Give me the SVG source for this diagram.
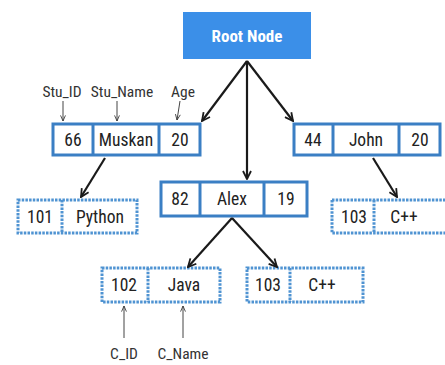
<svg xmlns="http://www.w3.org/2000/svg" width="445" height="365" viewBox="0 0 445 365">
  <defs>
    <marker id="ah" viewBox="0 0 10 10" refX="9" refY="5" markerWidth="10" markerHeight="10" orient="auto" markerUnits="userSpaceOnUse">
      <path d="M1,1 L9,5 L1,9" fill="none" stroke="#1a1a1a" stroke-width="1.8"/>
    </marker>
    <marker id="sa" viewBox="0 0 10 10" refX="9" refY="5" markerWidth="7" markerHeight="7" orient="auto" markerUnits="userSpaceOnUse">
      <path d="M1,1.5 L9,5 L1,8.5" fill="none" stroke="#333" stroke-width="1.2"/>
    </marker>
  </defs>
  <style>
    .solid { fill: #fff; stroke: #3b7fc4; stroke-width: 3; }
    .dash { fill: #fff; stroke: #4f93d2; stroke-width: 3; stroke-dasharray: 2.5 1.2; }
    .t { font-family: "Liberation Sans Narrow", "Roboto Condensed", Roboto, sans-serif; font-stretch: condensed; font-size: 17.5px; fill: #222; text-anchor: middle; dominant-baseline: central; }
    .lbl { font-family: "Liberation Sans Narrow", Roboto, sans-serif; font-stretch: condensed; font-size: 15.5px; fill: #333; text-anchor: middle; }
    .conn { stroke: #1a1a1a; stroke-width: 2.2; fill: none; marker-end: url(#ah); }
    .small { stroke: #444; stroke-width: 1; fill: none; marker-end: url(#sa); }
  </style>
  <rect width="445" height="365" fill="#fff"/>

  <g id="root">
    <rect x="183" y="12" width="128" height="47" fill="#3b8fe8"/>
    <text x="247" y="35.5" class="t" style="fill:#fff;font-weight:bold;font-size:17px">Root Node</text>
  </g>

  <g id="labels">
    <text x="62" y="97" class="lbl">Stu_ID</text>
    <text x="122" y="97" class="lbl">Stu_Name</text>
    <text x="183" y="97" class="lbl">Age</text>
    <text x="124" y="359" class="lbl">C_ID</text>
    <text x="183" y="359" class="lbl">C_Name</text>
  </g>

  <g id="muskan">
    <rect x="53" y="124" width="147" height="31" class="solid"/>
    <line x1="93" y1="124" x2="93" y2="155" class="solid"/>
    <line x1="159" y1="124" x2="159" y2="155" class="solid"/>
    <text x="73" y="140" class="t">66</text>
    <text x="126" y="140" class="t">Muskan</text>
    <text x="180" y="140" class="t">20</text>
  </g>

  <g id="john">
    <rect x="294" y="124" width="146" height="31" class="solid"/>
    <line x1="333" y1="124" x2="333" y2="155" class="solid"/>
    <line x1="399" y1="124" x2="399" y2="155" class="solid"/>
    <text x="313" y="140" class="t">44</text>
    <text x="366" y="140" class="t">John</text>
    <text x="420" y="140" class="t">20</text>
  </g>

  <g id="alex">
    <rect x="161" y="182" width="146" height="34" class="solid"/>
    <line x1="200" y1="182" x2="200" y2="216" class="solid"/>
    <line x1="264" y1="182" x2="264" y2="216" class="solid"/>
    <text x="180" y="199" class="t">82</text>
    <text x="232" y="199" class="t">Alex</text>
    <text x="286" y="199" class="t">19</text>
  </g>

  <g id="python">
    <rect x="18" y="200" width="119" height="33" class="dash"/>
    <line x1="62" y1="200" x2="62" y2="233" class="dash"/>
    <text x="40" y="217" class="t">101</text>
    <text x="100" y="217" class="t">Python</text>
  </g>

  <g id="cpp1">
    <rect x="332" y="200" width="120" height="33" class="dash"/>
    <line x1="374" y1="200" x2="374" y2="233" class="dash"/>
    <text x="354" y="217" class="t">103</text>
    <text x="404" y="217" class="t">C++</text>
  </g>

  <g id="java">
    <rect x="102" y="268" width="118" height="34" class="dash"/>
    <line x1="148" y1="268" x2="148" y2="302" class="dash"/>
    <text x="124" y="285" class="t">102</text>
    <text x="184" y="285" class="t">Java</text>
  </g>

  <g id="cpp2">
    <rect x="247" y="268" width="116" height="34" class="dash"/>
    <line x1="290" y1="268" x2="290" y2="302" class="dash"/>
    <text x="268" y="285" class="t">103</text>
    <text x="322" y="285" class="t">C++</text>
  </g>

  <g id="connectors">
    <line x1="247" y1="61" x2="202" y2="121" class="conn"/>
    <line x1="247" y1="61" x2="247" y2="179" class="conn"/>
    <line x1="247" y1="61" x2="293" y2="121" class="conn"/>
    <line x1="105" y1="158" x2="81" y2="197" class="conn"/>
    <line x1="373" y1="158" x2="397" y2="197" class="conn"/>
    <line x1="232" y1="218" x2="188" y2="267" class="conn"/>
    <line x1="232" y1="218" x2="277" y2="267" class="conn"/>
    <line x1="63" y1="101" x2="63" y2="121" class="small"/>
    <line x1="117" y1="101" x2="117" y2="121" class="small"/>
    <line x1="180" y1="101" x2="177" y2="120" class="small"/>
    <line x1="124" y1="338" x2="124" y2="306" class="small"/>
    <line x1="183" y1="338" x2="183" y2="306" class="small"/>
  </g>
</svg>
